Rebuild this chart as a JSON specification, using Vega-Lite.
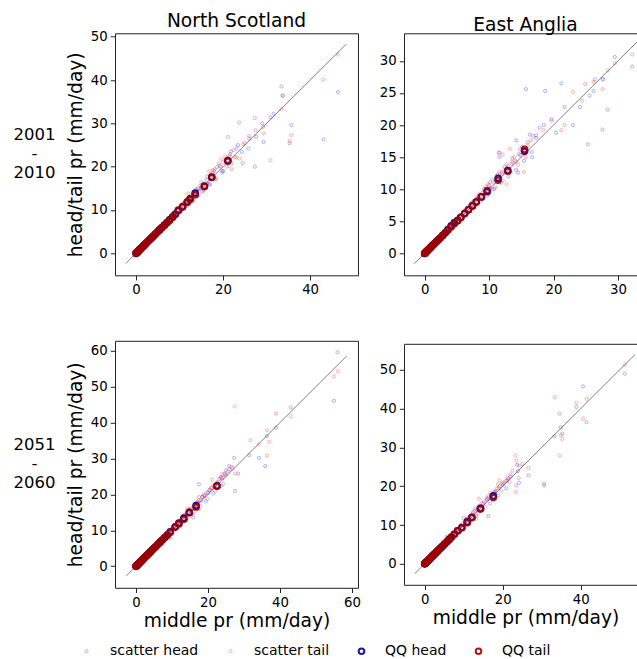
{
  "$schema": "https://vega.github.io/schema/vega-lite/v6.json",
  "padding": {"left": 0, "top": 11.3, "right": 0, "bottom": 0},
  "background": "white",
  "config": {
    "font": "DejaVu Sans",
    "view": {"stroke": "#222222", "strokeWidth": 1},
    "axis": {"domain": false, "grid": false, "ticks": true, "tickColor": "#222222", "tickSize": 4.7, "tickWidth": 1, "labelFontSize": 13.33, "labelColor": "black", "labelPadding": 3, "labelFont": "DejaVu Sans", "labelFlush": false, "labelOverlap": false, "titleFontSize": 18.67, "titleFontWeight": "normal", "titleColor": "black", "titleFont": "DejaVu Sans"},
    "axisY": {"titlePadding": 5},
    "axisX": {"titlePadding": 3},
    "title": {"fontSize": 18.67, "fontWeight": "normal", "font": "DejaVu Sans", "color": "black", "offset": -1},
    "legend": {"orient": "none", "direction": "horizontal", "legendX": 79.5, "legendY": 611, "labelFontSize": 14, "labelFont": "DejaVu Sans", "labelColor": "black", "labelOffset": 16.5, "columnPadding": 25, "symbolType": "circle"}
  },
  "datasets": {
    "ns01": [
      {"series":"scatter head","x":0.0,"y":0.0},{"series":"scatter head","x":0.1,"y":0.2},{"series":"scatter head","x":0.3,"y":0.2},{"series":"scatter head","x":0.5,"y":0.6},{"series":"scatter head","x":0.8,"y":0.7},{"series":"scatter head","x":1.0,"y":1.2},{"series":"scatter head","x":1.3,"y":1.2},{"series":"scatter head","x":1.7,"y":1.6},{"series":"scatter head","x":2.0,"y":2.2},{"series":"scatter head","x":2.4,"y":2.3},{"series":"scatter head","x":2.9,"y":3.0},{"series":"scatter head","x":3.3,"y":3.1},{"series":"scatter head","x":3.8,"y":4.0},{"series":"scatter head","x":4.2,"y":4.1},{"series":"scatter head","x":4.8,"y":4.6},{"series":"scatter head","x":5.3,"y":5.5},{"series":"scatter head","x":5.9,"y":5.7},{"series":"scatter head","x":6.4,"y":6.6},{"series":"scatter head","x":7.0,"y":6.7},{"series":"scatter head","x":7.5,"y":7.9},{"series":"scatter head","x":8.1,"y":7.6},{"series":"scatter head","x":8.6,"y":9.0},{"series":"scatter head","x":9.2,"y":8.7},{"series":"scatter head","x":9.8,"y":10.3},{"series":"scatter head","x":10.4,"y":9.8},{"series":"scatter head","x":11.0,"y":11.6},{"series":"scatter head","x":11.6,"y":10.9},{"series":"scatter head","x":12.2,"y":12.9},{"series":"scatter head","x":12.9,"y":12.1},{"series":"scatter head","x":13.5,"y":14.2},{"series":"scatter head","x":14.1,"y":13.2},{"series":"scatter head","x":14.8,"y":15.6},{"series":"scatter head","x":15.5,"y":14.5},{"series":"scatter head","x":16.2,"y":17.0},{"series":"scatter head","x":16.9,"y":15.8},{"series":"scatter head","x":17.6,"y":18.5},{"series":"scatter head","x":18.4,"y":17.1},{"series":"scatter head","x":19.2,"y":20.2},{"series":"scatter head","x":20.1,"y":19.0},{"series":"scatter head","x":21.0,"y":22.0},{"series":"scatter head","x":22.0,"y":20.8},{"series":"scatter head","x":23.1,"y":24.2},{"series":"scatter head","x":24.3,"y":23.4},{"series":"scatter head","x":26.0,"y":26.5},
      {"series":"scatter head","x":46.4,"y":37.2},{"series":"scatter head","x":43.1,"y":26.3},{"series":"scatter head","x":33.4,"y":38.5},{"series":"scatter head","x":33.7,"y":36.5},{"series":"scatter head","x":31.6,"y":32.2},{"series":"scatter head","x":30.9,"y":31.4},{"series":"scatter head","x":29.0,"y":30.0},{"series":"scatter head","x":35.7,"y":29.6},{"series":"scatter head","x":35.3,"y":25.4},{"series":"scatter head","x":29.3,"y":25.7},{"series":"scatter head","x":27.3,"y":20.0},{"series":"scatter head","x":24.5,"y":20.8},{"series":"scatter head","x":25.8,"y":24.2},{"series":"scatter head","x":21.8,"y":23.5},{"series":"scatter head","x":27.6,"y":26.9},{"series":"scatter head","x":23.4,"y":25.0},
      {"series":"scatter head","x":3.0,"y":3.4},{"series":"scatter head","x":4.5,"y":4.2},{"series":"scatter head","x":6.0,"y":6.5},{"series":"scatter head","x":7.8,"y":8.4},{"series":"scatter head","x":9.5,"y":9.0},{"series":"scatter head","x":10.8,"y":11.5},{"series":"scatter head","x":12.5,"y":12.0},{"series":"scatter head","x":13.0,"y":13.9},{"series":"scatter head","x":14.3,"y":15.0},{"series":"scatter head","x":15.2,"y":14.2},{"series":"scatter head","x":16.5,"y":16.0},{"series":"scatter head","x":17.2,"y":18.1},{"series":"scatter head","x":18.0,"y":19.0},{"series":"scatter head","x":19.8,"y":19.0},{"series":"scatter head","x":20.6,"y":21.4},{"series":"scatter head","x":21.5,"y":22.5},
      {"series":"scatter tail","x":0.0,"y":0.1},{"series":"scatter tail","x":0.2,"y":0.1},{"series":"scatter tail","x":0.4,"y":0.5},{"series":"scatter tail","x":0.7,"y":0.8},{"series":"scatter tail","x":0.9,"y":0.8},{"series":"scatter tail","x":1.2,"y":1.3},{"series":"scatter tail","x":1.5,"y":1.4},{"series":"scatter tail","x":1.9,"y":2.0},{"series":"scatter tail","x":2.2,"y":2.1},{"series":"scatter tail","x":2.7,"y":2.8},{"series":"scatter tail","x":3.1,"y":3.0},{"series":"scatter tail","x":3.6,"y":3.8},{"series":"scatter tail","x":4.0,"y":3.9},{"series":"scatter tail","x":4.5,"y":4.7},{"series":"scatter tail","x":5.0,"y":4.8},{"series":"scatter tail","x":5.6,"y":5.9},{"series":"scatter tail","x":6.1,"y":5.9},{"series":"scatter tail","x":6.7,"y":7.0},{"series":"scatter tail","x":7.2,"y":6.9},{"series":"scatter tail","x":7.8,"y":8.2},{"series":"scatter tail","x":8.4,"y":8.0},{"series":"scatter tail","x":8.9,"y":9.4},{"series":"scatter tail","x":9.5,"y":9.0},{"series":"scatter tail","x":10.1,"y":10.7},{"series":"scatter tail","x":10.7,"y":10.1},{"series":"scatter tail","x":11.3,"y":12.0},{"series":"scatter tail","x":11.9,"y":11.2},{"series":"scatter tail","x":12.5,"y":13.3},{"series":"scatter tail","x":13.1,"y":12.3},{"series":"scatter tail","x":13.8,"y":14.8},{"series":"scatter tail","x":14.4,"y":13.6},{"series":"scatter tail","x":15.0,"y":16.4},{"series":"scatter tail","x":15.7,"y":14.9},{"series":"scatter tail","x":16.3,"y":17.8},{"series":"scatter tail","x":17.0,"y":16.1},{"series":"scatter tail","x":17.6,"y":19.2},{"series":"scatter tail","x":18.3,"y":17.3},{"series":"scatter tail","x":19.0,"y":20.8},{"series":"scatter tail","x":19.8,"y":18.6},{"series":"scatter tail","x":20.5,"y":22.4},{"series":"scatter tail","x":21.3,"y":20.2},{"series":"scatter tail","x":22.4,"y":23.8},{"series":"scatter tail","x":23.0,"y":22.1},{"series":"scatter tail","x":24.6,"y":25.2},{"series":"scatter tail","x":26.0,"y":27.1},{"series":"scatter tail","x":27.5,"y":28.4},{"series":"scatter tail","x":16.8,"y":18.9},{"series":"scatter tail","x":18.0,"y":19.4},{"series":"scatter tail","x":14.9,"y":15.1},{"series":"scatter tail","x":12.0,"y":13.8},
      {"series":"scatter tail","x":46.4,"y":45.9},{"series":"scatter tail","x":43.0,"y":40.1},{"series":"scatter tail","x":33.7,"y":36.3},{"series":"scatter tail","x":33.4,"y":33.3},{"series":"scatter tail","x":27.3,"y":31.2},{"series":"scatter tail","x":23.7,"y":30.2},{"series":"scatter tail","x":21.1,"y":26.9},{"series":"scatter tail","x":35.7,"y":27.3},{"series":"scatter tail","x":35.3,"y":25.9},{"series":"scatter tail","x":29.3,"y":27.7},{"series":"scatter tail","x":29.2,"y":29.2},{"series":"scatter tail","x":30.9,"y":21.5},{"series":"scatter tail","x":22.0,"y":19.4},{"series":"scatter tail","x":23.8,"y":21.9},{"series":"scatter tail","x":19.6,"y":21.8},{"series":"scatter tail","x":25.0,"y":25.4},
      {"series":"scatter tail","x":3.3,"y":3.6},{"series":"scatter tail","x":5.3,"y":5.1},{"series":"scatter tail","x":6.9,"y":7.4},{"series":"scatter tail","x":8.6,"y":8.3},{"series":"scatter tail","x":9.9,"y":10.4},{"series":"scatter tail","x":11.0,"y":10.8},{"series":"scatter tail","x":12.2,"y":12.8},{"series":"scatter tail","x":13.4,"y":14.1},{"series":"scatter tail","x":14.1,"y":14.7},{"series":"scatter tail","x":15.4,"y":16.0},{"series":"scatter tail","x":16.0,"y":15.5},{"series":"scatter tail","x":17.3,"y":17.9},{"series":"scatter tail","x":18.6,"y":19.9},{"series":"scatter tail","x":19.4,"y":20.0},{"series":"scatter tail","x":20.0,"y":21.0},{"series":"scatter tail","x":21.6,"y":22.9},{"series":"scatter tail","x":22.7,"y":22.2},{"series":"scatter tail","x":20.8,"y":20.0},
      {"series":"QQ head","x":0.0,"y":0.0},{"series":"QQ head","x":0.1,"y":0.1},{"series":"QQ head","x":0.2,"y":0.2},{"series":"QQ head","x":0.35,"y":0.35},{"series":"QQ head","x":0.5,"y":0.5},{"series":"QQ head","x":0.7,"y":0.7},{"series":"QQ head","x":0.9,"y":0.9},{"series":"QQ head","x":1.1,"y":1.1},{"series":"QQ head","x":1.4,"y":1.4},{"series":"QQ head","x":1.7,"y":1.7},{"series":"QQ head","x":2.0,"y":2.0},{"series":"QQ head","x":2.3,"y":2.3},{"series":"QQ head","x":2.7,"y":2.7},{"series":"QQ head","x":3.1,"y":3.1},{"series":"QQ head","x":3.5,"y":3.5},{"series":"QQ head","x":3.9,"y":3.9},{"series":"QQ head","x":4.4,"y":4.4},{"series":"QQ head","x":4.9,"y":4.9},{"series":"QQ head","x":5.4,"y":5.4},{"series":"QQ head","x":5.9,"y":5.9},{"series":"QQ head","x":6.5,"y":6.5},{"series":"QQ head","x":7.1,"y":7.1},{"series":"QQ head","x":7.7,"y":7.7},{"series":"QQ head","x":8.4,"y":8.4},{"series":"QQ head","x":9.0,"y":9.0},{"series":"QQ head","x":9.7,"y":9.8},{"series":"QQ head","x":10.7,"y":10.7},{"series":"QQ head","x":11.8,"y":11.9},{"series":"QQ head","x":12.4,"y":12.6},{"series":"QQ head","x":13.6,"y":13.9},{"series":"QQ head","x":15.7,"y":15.5},{"series":"QQ head","x":17.4,"y":17.6},{"series":"QQ head","x":21.1,"y":21.3},
      {"series":"QQ tail","x":0.0,"y":0.0},{"series":"QQ tail","x":0.1,"y":0.1},{"series":"QQ tail","x":0.2,"y":0.2},{"series":"QQ tail","x":0.35,"y":0.35},{"series":"QQ tail","x":0.5,"y":0.5},{"series":"QQ tail","x":0.7,"y":0.7},{"series":"QQ tail","x":0.9,"y":0.9},{"series":"QQ tail","x":1.1,"y":1.1},{"series":"QQ tail","x":1.4,"y":1.4},{"series":"QQ tail","x":1.7,"y":1.7},{"series":"QQ tail","x":2.0,"y":2.0},{"series":"QQ tail","x":2.3,"y":2.3},{"series":"QQ tail","x":2.7,"y":2.7},{"series":"QQ tail","x":3.1,"y":3.1},{"series":"QQ tail","x":3.5,"y":3.5},{"series":"QQ tail","x":3.9,"y":3.9},{"series":"QQ tail","x":4.4,"y":4.4},{"series":"QQ tail","x":4.9,"y":4.9},{"series":"QQ tail","x":5.4,"y":5.4},{"series":"QQ tail","x":5.9,"y":5.9},{"series":"QQ tail","x":6.5,"y":6.4},{"series":"QQ tail","x":7.1,"y":7.0},{"series":"QQ tail","x":7.7,"y":7.6},{"series":"QQ tail","x":8.4,"y":8.3},{"series":"QQ tail","x":9.0,"y":9.0},{"series":"QQ tail","x":9.7,"y":10.0},{"series":"QQ tail","x":10.7,"y":10.8},{"series":"QQ tail","x":11.8,"y":11.8},{"series":"QQ tail","x":12.4,"y":12.4},{"series":"QQ tail","x":13.6,"y":13.5},{"series":"QQ tail","x":15.7,"y":15.4},{"series":"QQ tail","x":17.4,"y":17.5},{"series":"QQ tail","x":21.1,"y":21.4}
    ],
    "ea01": [
      {"series":"scatter head","x":0.0,"y":0.0},{"series":"scatter head","x":0.1,"y":0.2},{"series":"scatter head","x":0.3,"y":0.3},{"series":"scatter head","x":0.5,"y":0.4},{"series":"scatter head","x":0.7,"y":0.8},{"series":"scatter head","x":1.0,"y":0.9},{"series":"scatter head","x":1.3,"y":1.4},{"series":"scatter head","x":1.6,"y":1.5},{"series":"scatter head","x":1.9,"y":2.1},{"series":"scatter head","x":2.3,"y":2.2},{"series":"scatter head","x":2.7,"y":2.9},{"series":"scatter head","x":3.1,"y":2.9},{"series":"scatter head","x":3.5,"y":3.8},{"series":"scatter head","x":3.9,"y":3.7},{"series":"scatter head","x":4.3,"y":4.7},{"series":"scatter head","x":4.8,"y":4.5},{"series":"scatter head","x":5.2,"y":5.6},{"series":"scatter head","x":5.7,"y":5.3},{"series":"scatter head","x":6.2,"y":6.7},{"series":"scatter head","x":6.7,"y":6.3},{"series":"scatter head","x":7.2,"y":7.8},{"series":"scatter head","x":7.7,"y":7.2},{"series":"scatter head","x":8.2,"y":8.9},{"series":"scatter head","x":8.7,"y":8.1},{"series":"scatter head","x":9.2,"y":10.0},{"series":"scatter head","x":9.7,"y":9.0},{"series":"scatter head","x":10.2,"y":11.1},{"series":"scatter head","x":10.8,"y":10.0},{"series":"scatter head","x":11.3,"y":12.3},{"series":"scatter head","x":11.9,"y":11.0},{"series":"scatter head","x":12.4,"y":13.5},{"series":"scatter head","x":13.0,"y":12.0},{"series":"scatter head","x":13.6,"y":14.8},{"series":"scatter head","x":14.2,"y":13.0},{"series":"scatter head","x":14.8,"y":16.2},{"series":"scatter head","x":15.4,"y":14.4},{"series":"scatter head","x":16.0,"y":17.3},{"series":"scatter head","x":16.6,"y":15.8},{"series":"scatter head","x":17.3,"y":18.0},
      {"series":"scatter head","x":32.2,"y":29.1},{"series":"scatter head","x":29.5,"y":30.6},{"series":"scatter head","x":15.7,"y":25.6},{"series":"scatter head","x":18.7,"y":25.3},{"series":"scatter head","x":21.2,"y":26.5},{"series":"scatter head","x":26.4,"y":27.1},{"series":"scatter head","x":26.2,"y":25.3},{"series":"scatter head","x":25.6,"y":24.6},{"series":"scatter head","x":21.7,"y":22.8},{"series":"scatter head","x":24.1,"y":22.8},{"series":"scatter head","x":28.4,"y":22.4},{"series":"scatter head","x":27.6,"y":19.3},{"series":"scatter head","x":25.3,"y":17.0},{"series":"scatter head","x":23.0,"y":20.0},{"series":"scatter head","x":19.7,"y":20.9},{"series":"scatter head","x":18.5,"y":20.0},{"series":"scatter head","x":17.8,"y":19.6},{"series":"scatter head","x":20.4,"y":18.8},{"series":"scatter head","x":17.3,"y":18.4},{"series":"scatter head","x":16.3,"y":18.5},{"series":"scatter head","x":14.2,"y":17.6},{"series":"scatter head","x":11.6,"y":15.0},{"series":"scatter head","x":11.6,"y":15.7},{"series":"scatter head","x":16.7,"y":15.0},{"series":"scatter head","x":14.5,"y":12.6},{"series":"scatter head","x":27.7,"y":27.1},
      {"series":"scatter head","x":2.0,"y":2.4},{"series":"scatter head","x":3.0,"y":3.3},{"series":"scatter head","x":4.0,"y":4.4},{"series":"scatter head","x":5.0,"y":5.4},{"series":"scatter head","x":6.0,"y":6.0},{"series":"scatter head","x":7.0,"y":7.4},{"series":"scatter head","x":8.0,"y":8.5},{"series":"scatter head","x":9.0,"y":9.5},{"series":"scatter head","x":10.0,"y":10.6},{"series":"scatter head","x":10.5,"y":10.0},{"series":"scatter head","x":11.0,"y":11.5},{"series":"scatter head","x":12.0,"y":12.6},{"series":"scatter head","x":12.8,"y":13.3},{"series":"scatter head","x":13.5,"y":14.0},{"series":"scatter head","x":14.8,"y":15.3},{"series":"scatter head","x":15.5,"y":15.8},
      {"series":"scatter tail","x":0.0,"y":0.1},{"series":"scatter tail","x":0.2,"y":0.1},{"series":"scatter tail","x":0.4,"y":0.5},{"series":"scatter tail","x":0.6,"y":0.6},{"series":"scatter tail","x":0.9,"y":1.0},{"series":"scatter tail","x":1.2,"y":1.1},{"series":"scatter tail","x":1.5,"y":1.6},{"series":"scatter tail","x":1.8,"y":1.7},{"series":"scatter tail","x":2.1,"y":2.3},{"series":"scatter tail","x":2.5,"y":2.4},{"series":"scatter tail","x":2.9,"y":3.1},{"series":"scatter tail","x":3.3,"y":3.2},{"series":"scatter tail","x":3.7,"y":4.0},{"series":"scatter tail","x":4.1,"y":3.9},{"series":"scatter tail","x":4.6,"y":4.9},{"series":"scatter tail","x":5.0,"y":4.8},{"series":"scatter tail","x":5.5,"y":5.9},{"series":"scatter tail","x":6.0,"y":5.7},{"series":"scatter tail","x":6.5,"y":7.0},{"series":"scatter tail","x":7.0,"y":6.6},{"series":"scatter tail","x":7.5,"y":8.1},{"series":"scatter tail","x":8.0,"y":7.6},{"series":"scatter tail","x":8.5,"y":9.3},{"series":"scatter tail","x":9.0,"y":8.5},{"series":"scatter tail","x":9.5,"y":10.4},{"series":"scatter tail","x":10.0,"y":9.4},{"series":"scatter tail","x":10.5,"y":11.5},{"series":"scatter tail","x":11.0,"y":10.3},{"series":"scatter tail","x":11.6,"y":12.7},{"series":"scatter tail","x":12.1,"y":11.4},{"series":"scatter tail","x":12.7,"y":13.9},{"series":"scatter tail","x":13.3,"y":12.6},{"series":"scatter tail","x":13.9,"y":15.0},{"series":"scatter tail","x":14.5,"y":13.8},{"series":"scatter tail","x":15.1,"y":16.6},{"series":"scatter tail","x":15.7,"y":15.0},{"series":"scatter tail","x":14.0,"y":14.5},{"series":"scatter tail","x":12.0,"y":12.4},{"series":"scatter tail","x":10.2,"y":10.2},{"series":"scatter tail","x":16.5,"y":17.6},
      {"series":"scatter tail","x":32.2,"y":31.0},{"series":"scatter tail","x":29.5,"y":29.6},{"series":"scatter tail","x":28.4,"y":28.5},{"series":"scatter tail","x":27.6,"y":27.2},{"series":"scatter tail","x":26.2,"y":26.7},{"series":"scatter tail","x":24.9,"y":26.4},{"series":"scatter tail","x":23.0,"y":25.2},{"series":"scatter tail","x":24.4,"y":23.8},{"series":"scatter tail","x":27.6,"y":25.6},{"series":"scatter tail","x":21.7,"y":20.0},{"series":"scatter tail","x":21.2,"y":19.2},{"series":"scatter tail","x":19.7,"y":20.7},{"series":"scatter tail","x":18.4,"y":19.2},{"series":"scatter tail","x":16.8,"y":18.3},{"series":"scatter tail","x":15.4,"y":12.7},{"series":"scatter tail","x":11.5,"y":15.7},{"series":"scatter tail","x":12.1,"y":15.4},{"series":"scatter tail","x":13.2,"y":16.3},{"series":"scatter tail","x":12.7,"y":10.8},
      {"series":"scatter tail","x":2.3,"y":2.6},{"series":"scatter tail","x":3.5,"y":3.4},{"series":"scatter tail","x":4.4,"y":4.6},{"series":"scatter tail","x":5.3,"y":5.6},{"series":"scatter tail","x":6.3,"y":6.5},{"series":"scatter tail","x":7.3,"y":7.5},{"series":"scatter tail","x":8.3,"y":8.6},{"series":"scatter tail","x":9.3,"y":9.6},{"series":"scatter tail","x":9.8,"y":10.8},{"series":"scatter tail","x":10.8,"y":11.0},{"series":"scatter tail","x":11.3,"y":12.1},{"series":"scatter tail","x":12.4,"y":13.0},{"series":"scatter tail","x":13.0,"y":13.6},{"series":"scatter tail","x":13.6,"y":14.2},{"series":"scatter tail","x":14.6,"y":15.5},{"series":"scatter tail","x":15.3,"y":16.4},{"series":"scatter tail","x":16.0,"y":16.8},{"series":"scatter tail","x":14.2,"y":14.3},
      {"series":"QQ head","x":0.0,"y":0.0},{"series":"QQ head","x":0.1,"y":0.1},{"series":"QQ head","x":0.2,"y":0.2},{"series":"QQ head","x":0.3,"y":0.3},{"series":"QQ head","x":0.45,"y":0.45},{"series":"QQ head","x":0.6,"y":0.6},{"series":"QQ head","x":0.8,"y":0.8},{"series":"QQ head","x":1.0,"y":1.0},{"series":"QQ head","x":1.25,"y":1.25},{"series":"QQ head","x":1.5,"y":1.5},{"series":"QQ head","x":1.8,"y":1.8},{"series":"QQ head","x":2.1,"y":2.1},{"series":"QQ head","x":2.4,"y":2.4},{"series":"QQ head","x":2.8,"y":2.8},{"series":"QQ head","x":3.2,"y":3.2},{"series":"QQ head","x":3.6,"y":3.7},{"series":"QQ head","x":4.1,"y":4.3},{"series":"QQ head","x":4.6,"y":4.8},{"series":"QQ head","x":5.1,"y":5.1},{"series":"QQ head","x":5.6,"y":5.6},{"series":"QQ head","x":6.2,"y":6.2},{"series":"QQ head","x":6.8,"y":6.8},{"series":"QQ head","x":7.4,"y":7.4},{"series":"QQ head","x":8.0,"y":8.0},{"series":"QQ head","x":8.8,"y":8.8},{"series":"QQ head","x":9.7,"y":9.6},{"series":"QQ head","x":11.4,"y":11.7},{"series":"QQ head","x":12.9,"y":12.9},{"series":"QQ head","x":15.5,"y":15.9},
      {"series":"QQ tail","x":0.0,"y":0.0},{"series":"QQ tail","x":0.1,"y":0.1},{"series":"QQ tail","x":0.2,"y":0.2},{"series":"QQ tail","x":0.3,"y":0.3},{"series":"QQ tail","x":0.45,"y":0.45},{"series":"QQ tail","x":0.6,"y":0.6},{"series":"QQ tail","x":0.8,"y":0.8},{"series":"QQ tail","x":1.0,"y":1.0},{"series":"QQ tail","x":1.25,"y":1.25},{"series":"QQ tail","x":1.5,"y":1.5},{"series":"QQ tail","x":1.8,"y":1.8},{"series":"QQ tail","x":2.1,"y":2.1},{"series":"QQ tail","x":2.4,"y":2.4},{"series":"QQ tail","x":2.8,"y":2.8},{"series":"QQ tail","x":3.2,"y":3.2},{"series":"QQ tail","x":3.6,"y":3.6},{"series":"QQ tail","x":4.1,"y":4.1},{"series":"QQ tail","x":4.6,"y":4.6},{"series":"QQ tail","x":5.1,"y":5.1},{"series":"QQ tail","x":5.6,"y":5.6},{"series":"QQ tail","x":6.2,"y":6.2},{"series":"QQ tail","x":6.8,"y":6.8},{"series":"QQ tail","x":7.4,"y":7.4},{"series":"QQ tail","x":8.0,"y":8.0},{"series":"QQ tail","x":8.8,"y":8.8},{"series":"QQ tail","x":9.7,"y":9.8},{"series":"QQ tail","x":11.4,"y":11.4},{"series":"QQ tail","x":12.9,"y":12.8},{"series":"QQ tail","x":15.5,"y":16.2}
    ],
    "ns51": [
      {"series":"scatter head","x":0.0,"y":0.0},{"series":"scatter head","x":0.2,"y":0.1},{"series":"scatter head","x":0.4,"y":0.5},{"series":"scatter head","x":0.7,"y":0.6},{"series":"scatter head","x":1.0,"y":1.1},{"series":"scatter head","x":1.4,"y":1.3},{"series":"scatter head","x":1.8,"y":1.9},{"series":"scatter head","x":2.2,"y":2.1},{"series":"scatter head","x":2.7,"y":2.8},{"series":"scatter head","x":3.2,"y":3.0},{"series":"scatter head","x":3.7,"y":3.9},{"series":"scatter head","x":4.2,"y":4.0},{"series":"scatter head","x":4.8,"y":5.0},{"series":"scatter head","x":5.4,"y":5.1},{"series":"scatter head","x":6.0,"y":6.3},{"series":"scatter head","x":6.6,"y":6.2},{"series":"scatter head","x":7.2,"y":7.6},{"series":"scatter head","x":7.9,"y":7.4},{"series":"scatter head","x":8.6,"y":9.0},{"series":"scatter head","x":9.3,"y":8.7},{"series":"scatter head","x":10.0,"y":10.6},{"series":"scatter head","x":10.7,"y":10.0},{"series":"scatter head","x":11.5,"y":12.1},{"series":"scatter head","x":12.3,"y":11.4},{"series":"scatter head","x":13.1,"y":13.9},{"series":"scatter head","x":13.9,"y":12.8},{"series":"scatter head","x":14.8,"y":15.7},{"series":"scatter head","x":15.6,"y":14.4},{"series":"scatter head","x":16.5,"y":17.4},{"series":"scatter head","x":17.4,"y":16.0},{"series":"scatter head","x":18.4,"y":19.3},{"series":"scatter head","x":19.4,"y":18.1},{"series":"scatter head","x":20.4,"y":21.2},{"series":"scatter head","x":21.5,"y":20.3},{"series":"scatter head","x":22.6,"y":23.4},{"series":"scatter head","x":23.7,"y":22.4},{"series":"scatter head","x":24.8,"y":25.6},{"series":"scatter head","x":26.0,"y":27.0},
      {"series":"scatter head","x":56.0,"y":59.6},{"series":"scatter head","x":55.0,"y":46.1},{"series":"scatter head","x":43.0,"y":44.2},{"series":"scatter head","x":38.9,"y":38.6},{"series":"scatter head","x":36.4,"y":36.3},{"series":"scatter head","x":34.2,"y":30.2},{"series":"scatter head","x":35.9,"y":27.9},{"series":"scatter head","x":31.5,"y":30.9},{"series":"scatter head","x":27.3,"y":30.2},{"series":"scatter head","x":27.5,"y":21.0},{"series":"scatter head","x":17.5,"y":22.8},{"series":"scatter head","x":28.4,"y":25.8},{"series":"scatter head","x":25.9,"y":27.9},{"series":"scatter head","x":25.0,"y":26.7},{"series":"scatter head","x":23.6,"y":24.9},{"series":"scatter head","x":15.9,"y":13.6},{"series":"scatter head","x":9.5,"y":7.9},
      {"series":"scatter head","x":3.0,"y":3.3},{"series":"scatter head","x":5.0,"y":5.4},{"series":"scatter head","x":7.0,"y":7.3},{"series":"scatter head","x":9.0,"y":9.4},{"series":"scatter head","x":10.5,"y":11.1},{"series":"scatter head","x":12.0,"y":12.5},{"series":"scatter head","x":13.5,"y":13.9},{"series":"scatter head","x":15.0,"y":15.3},{"series":"scatter head","x":16.0,"y":16.6},{"series":"scatter head","x":17.0,"y":17.7},{"series":"scatter head","x":18.0,"y":18.3},{"series":"scatter head","x":19.0,"y":19.6},{"series":"scatter head","x":20.0,"y":20.4},{"series":"scatter head","x":21.0,"y":21.7},{"series":"scatter head","x":22.0,"y":22.5},{"series":"scatter head","x":24.0,"y":24.6},
      {"series":"scatter tail","x":0.0,"y":0.1},{"series":"scatter tail","x":0.1,"y":0.0},{"series":"scatter tail","x":0.3,"y":0.3},{"series":"scatter tail","x":0.6,"y":0.7},{"series":"scatter tail","x":0.9,"y":0.8},{"series":"scatter tail","x":1.2,"y":1.3},{"series":"scatter tail","x":1.6,"y":1.5},{"series":"scatter tail","x":2.0,"y":2.1},{"series":"scatter tail","x":2.5,"y":2.4},{"series":"scatter tail","x":2.9,"y":3.1},{"series":"scatter tail","x":3.4,"y":3.3},{"series":"scatter tail","x":3.9,"y":4.1},{"series":"scatter tail","x":4.5,"y":4.3},{"series":"scatter tail","x":5.1,"y":5.3},{"series":"scatter tail","x":5.7,"y":5.5},{"series":"scatter tail","x":6.3,"y":6.6},{"series":"scatter tail","x":6.9,"y":6.7},{"series":"scatter tail","x":7.6,"y":7.9},{"series":"scatter tail","x":8.2,"y":8.0},{"series":"scatter tail","x":8.9,"y":9.3},{"series":"scatter tail","x":9.6,"y":9.3},{"series":"scatter tail","x":10.4,"y":10.9},{"series":"scatter tail","x":11.1,"y":10.7},{"series":"scatter tail","x":11.9,"y":12.5},{"series":"scatter tail","x":12.7,"y":12.2},{"series":"scatter tail","x":13.5,"y":14.3},{"series":"scatter tail","x":14.3,"y":13.6},{"series":"scatter tail","x":15.2,"y":16.1},{"series":"scatter tail","x":16.1,"y":15.2},{"series":"scatter tail","x":17.0,"y":18.0},{"series":"scatter tail","x":17.9,"y":16.8},{"series":"scatter tail","x":18.9,"y":19.9},{"series":"scatter tail","x":19.9,"y":18.8},{"series":"scatter tail","x":21.0,"y":22.0},{"series":"scatter tail","x":22.0,"y":21.0},{"series":"scatter tail","x":23.1,"y":24.3},{"series":"scatter tail","x":24.2,"y":23.0},{"series":"scatter tail","x":25.5,"y":26.4},{"series":"scatter tail","x":26.8,"y":27.3},
      {"series":"scatter tail","x":56.1,"y":54.3},{"series":"scatter tail","x":55.0,"y":52.9},{"series":"scatter tail","x":43.0,"y":41.8},{"series":"scatter tail","x":38.9,"y":42.5},{"series":"scatter tail","x":36.4,"y":37.9},{"series":"scatter tail","x":34.1,"y":33.9},{"series":"scatter tail","x":37.0,"y":34.7},{"series":"scatter tail","x":36.4,"y":30.8},{"series":"scatter tail","x":31.8,"y":35.1},{"series":"scatter tail","x":27.4,"y":44.5},{"series":"scatter tail","x":27.5,"y":25.8},{"series":"scatter tail","x":26.5,"y":27.7},{"series":"scatter tail","x":24.5,"y":25.8},{"series":"scatter tail","x":21.2,"y":24.1},{"series":"scatter tail","x":17.5,"y":19.3},{"series":"scatter tail","x":14.2,"y":16.1},
      {"series":"scatter tail","x":3.6,"y":3.8},{"series":"scatter tail","x":5.5,"y":5.9},{"series":"scatter tail","x":7.3,"y":7.6},{"series":"scatter tail","x":9.2,"y":9.8},{"series":"scatter tail","x":10.8,"y":11.4},{"series":"scatter tail","x":12.3,"y":12.9},{"series":"scatter tail","x":13.8,"y":14.5},{"series":"scatter tail","x":15.0,"y":15.8},{"series":"scatter tail","x":16.4,"y":17.2},{"series":"scatter tail","x":17.5,"y":18.4},{"series":"scatter tail","x":18.5,"y":19.4},{"series":"scatter tail","x":19.5,"y":20.5},{"series":"scatter tail","x":20.5,"y":21.3},{"series":"scatter tail","x":21.5,"y":22.5},{"series":"scatter tail","x":22.5,"y":23.2},{"series":"scatter tail","x":23.5,"y":24.5},{"series":"scatter tail","x":25.0,"y":25.3},{"series":"scatter tail","x":24.0,"y":25.6},
      {"series":"QQ head","x":0.0,"y":0.0},{"series":"QQ head","x":0.1,"y":0.1},{"series":"QQ head","x":0.2,"y":0.2},{"series":"QQ head","x":0.35,"y":0.35},{"series":"QQ head","x":0.5,"y":0.5},{"series":"QQ head","x":0.7,"y":0.7},{"series":"QQ head","x":0.9,"y":0.9},{"series":"QQ head","x":1.15,"y":1.15},{"series":"QQ head","x":1.4,"y":1.4},{"series":"QQ head","x":1.7,"y":1.7},{"series":"QQ head","x":2.0,"y":2.0},{"series":"QQ head","x":2.35,"y":2.35},{"series":"QQ head","x":2.7,"y":2.7},{"series":"QQ head","x":3.1,"y":3.1},{"series":"QQ head","x":3.5,"y":3.5},{"series":"QQ head","x":4.0,"y":4.0},{"series":"QQ head","x":4.5,"y":4.5},{"series":"QQ head","x":5.0,"y":5.0},{"series":"QQ head","x":5.5,"y":5.5},{"series":"QQ head","x":6.1,"y":6.1},{"series":"QQ head","x":6.7,"y":6.7},{"series":"QQ head","x":7.3,"y":7.3},{"series":"QQ head","x":8.0,"y":8.0},{"series":"QQ head","x":8.7,"y":8.7},{"series":"QQ head","x":9.5,"y":9.6},{"series":"QQ head","x":10.9,"y":10.9},{"series":"QQ head","x":11.9,"y":12.0},{"series":"QQ head","x":13.3,"y":13.4},{"series":"QQ head","x":14.8,"y":15.0},{"series":"QQ head","x":16.7,"y":16.9},{"series":"QQ head","x":22.5,"y":22.4},
      {"series":"QQ tail","x":0.0,"y":0.0},{"series":"QQ tail","x":0.1,"y":0.1},{"series":"QQ tail","x":0.2,"y":0.2},{"series":"QQ tail","x":0.35,"y":0.35},{"series":"QQ tail","x":0.5,"y":0.5},{"series":"QQ tail","x":0.7,"y":0.7},{"series":"QQ tail","x":0.9,"y":0.9},{"series":"QQ tail","x":1.15,"y":1.15},{"series":"QQ tail","x":1.4,"y":1.4},{"series":"QQ tail","x":1.7,"y":1.7},{"series":"QQ tail","x":2.0,"y":2.0},{"series":"QQ tail","x":2.35,"y":2.35},{"series":"QQ tail","x":2.7,"y":2.7},{"series":"QQ tail","x":3.1,"y":3.1},{"series":"QQ tail","x":3.5,"y":3.5},{"series":"QQ tail","x":4.0,"y":4.0},{"series":"QQ tail","x":4.5,"y":4.5},{"series":"QQ tail","x":5.0,"y":5.0},{"series":"QQ tail","x":5.5,"y":5.5},{"series":"QQ tail","x":6.1,"y":6.1},{"series":"QQ tail","x":6.7,"y":6.7},{"series":"QQ tail","x":7.3,"y":7.3},{"series":"QQ tail","x":8.0,"y":8.0},{"series":"QQ tail","x":8.7,"y":8.7},{"series":"QQ tail","x":9.5,"y":9.4},{"series":"QQ tail","x":10.9,"y":11.0},{"series":"QQ tail","x":11.9,"y":11.8},{"series":"QQ tail","x":13.3,"y":13.1},{"series":"QQ tail","x":14.8,"y":14.9},{"series":"QQ tail","x":16.7,"y":16.5},{"series":"QQ tail","x":22.5,"y":22.3}
    ],
    "ea51": [
      {"series":"scatter head","x":0.0,"y":0.0},{"series":"scatter head","x":0.2,"y":0.2},{"series":"scatter head","x":0.4,"y":0.3},{"series":"scatter head","x":0.7,"y":0.8},{"series":"scatter head","x":1.0,"y":0.9},{"series":"scatter head","x":1.4,"y":1.5},{"series":"scatter head","x":1.8,"y":1.7},{"series":"scatter head","x":2.2,"y":2.4},{"series":"scatter head","x":2.7,"y":2.5},{"series":"scatter head","x":3.2,"y":3.4},{"series":"scatter head","x":3.7,"y":3.5},{"series":"scatter head","x":4.2,"y":4.5},{"series":"scatter head","x":4.8,"y":4.6},{"series":"scatter head","x":5.4,"y":5.8},{"series":"scatter head","x":6.0,"y":5.7},{"series":"scatter head","x":6.6,"y":7.1},{"series":"scatter head","x":7.2,"y":6.8},{"series":"scatter head","x":7.9,"y":8.5},{"series":"scatter head","x":8.6,"y":8.1},{"series":"scatter head","x":9.3,"y":10.0},{"series":"scatter head","x":10.0,"y":9.3},{"series":"scatter head","x":10.8,"y":11.6},{"series":"scatter head","x":11.6,"y":10.7},{"series":"scatter head","x":12.4,"y":13.3},{"series":"scatter head","x":13.2,"y":12.3},{"series":"scatter head","x":14.1,"y":15.0},{"series":"scatter head","x":15.0,"y":14.0},{"series":"scatter head","x":15.9,"y":16.8},{"series":"scatter head","x":16.8,"y":15.6},{"series":"scatter head","x":17.8,"y":18.6},{"series":"scatter head","x":18.8,"y":17.6},{"series":"scatter head","x":19.9,"y":20.7},{"series":"scatter head","x":20.9,"y":19.5},{"series":"scatter head","x":22.0,"y":22.5},
      {"series":"scatter head","x":51.3,"y":49.0},{"series":"scatter head","x":40.6,"y":45.7},{"series":"scatter head","x":38.9,"y":40.4},{"series":"scatter head","x":41.5,"y":36.5},{"series":"scatter head","x":34.6,"y":38.7},{"series":"scatter head","x":34.9,"y":35.2},{"series":"scatter head","x":35.3,"y":33.5},{"series":"scatter head","x":33.3,"y":32.9},{"series":"scatter head","x":30.6,"y":20.6},{"series":"scatter head","x":26.6,"y":22.8},{"series":"scatter head","x":24.2,"y":20.9},{"series":"scatter head","x":23.5,"y":20.2},{"series":"scatter head","x":23.7,"y":25.5},{"series":"scatter head","x":23.9,"y":23.9},{"series":"scatter head","x":21.1,"y":21.5},{"series":"scatter head","x":16.3,"y":12.3},{"series":"scatter head","x":10.0,"y":11.8},{"series":"scatter head","x":5.6,"y":7.0},
      {"series":"scatter head","x":3.0,"y":3.2},{"series":"scatter head","x":5.0,"y":5.3},{"series":"scatter head","x":7.0,"y":7.4},{"series":"scatter head","x":9.0,"y":9.4},{"series":"scatter head","x":10.5,"y":10.9},{"series":"scatter head","x":12.0,"y":12.4},{"series":"scatter head","x":13.5,"y":13.8},{"series":"scatter head","x":15.0,"y":15.5},{"series":"scatter head","x":16.0,"y":16.5},{"series":"scatter head","x":17.0,"y":17.5},{"series":"scatter head","x":18.0,"y":18.4},{"series":"scatter head","x":19.0,"y":19.5},{"series":"scatter head","x":20.0,"y":20.3},{"series":"scatter head","x":21.5,"y":21.9},{"series":"scatter head","x":13.0,"y":14.2},{"series":"scatter head","x":8.0,"y":9.0},
      {"series":"scatter tail","x":0.0,"y":0.1},{"series":"scatter tail","x":0.1,"y":0.0},{"series":"scatter tail","x":0.3,"y":0.4},{"series":"scatter tail","x":0.6,"y":0.5},{"series":"scatter tail","x":0.9,"y":1.0},{"series":"scatter tail","x":1.2,"y":1.1},{"series":"scatter tail","x":1.6,"y":1.7},{"series":"scatter tail","x":2.0,"y":1.9},{"series":"scatter tail","x":2.5,"y":2.6},{"series":"scatter tail","x":2.9,"y":2.8},{"series":"scatter tail","x":3.4,"y":3.6},{"series":"scatter tail","x":3.9,"y":3.8},{"series":"scatter tail","x":4.5,"y":4.7},{"series":"scatter tail","x":5.1,"y":4.9},{"series":"scatter tail","x":5.7,"y":6.0},{"series":"scatter tail","x":6.3,"y":6.0},{"series":"scatter tail","x":6.9,"y":7.3},{"series":"scatter tail","x":7.6,"y":7.3},{"series":"scatter tail","x":8.3,"y":8.8},{"series":"scatter tail","x":9.0,"y":8.6},{"series":"scatter tail","x":9.7,"y":10.3},{"series":"scatter tail","x":10.4,"y":10.0},{"series":"scatter tail","x":11.2,"y":11.9},{"series":"scatter tail","x":12.0,"y":11.4},{"series":"scatter tail","x":12.8,"y":13.7},{"series":"scatter tail","x":13.7,"y":13.0},{"series":"scatter tail","x":14.6,"y":15.6},{"series":"scatter tail","x":15.5,"y":14.7},{"series":"scatter tail","x":16.4,"y":17.5},{"series":"scatter tail","x":17.4,"y":16.5},{"series":"scatter tail","x":18.5,"y":19.4},{"series":"scatter tail","x":19.6,"y":18.7},{"series":"scatter tail","x":20.7,"y":21.3},{"series":"scatter tail","x":21.8,"y":21.0},{"series":"scatter tail","x":22.5,"y":24.0},
      {"series":"scatter tail","x":51.3,"y":51.3},{"series":"scatter tail","x":33.4,"y":42.9},{"series":"scatter tail","x":38.9,"y":41.5},{"series":"scatter tail","x":41.5,"y":42.5},{"series":"scatter tail","x":40.6,"y":37.4},{"series":"scatter tail","x":34.9,"y":33.1},{"series":"scatter tail","x":35.3,"y":32.2},{"series":"scatter tail","x":34.6,"y":27.9},{"series":"scatter tail","x":30.6,"y":20.2},{"series":"scatter tail","x":26.6,"y":24.7},{"series":"scatter tail","x":23.3,"y":27.9},{"series":"scatter tail","x":23.5,"y":26.6},{"series":"scatter tail","x":24.1,"y":25.3},{"series":"scatter tail","x":25.0,"y":25.7},{"series":"scatter tail","x":23.3,"y":18.5},{"series":"scatter tail","x":24.1,"y":22.1},{"series":"scatter tail","x":19.2,"y":21.5},{"series":"scatter tail","x":13.9,"y":16.8},{"series":"scatter tail","x":13.2,"y":11.6},
      {"series":"scatter tail","x":3.5,"y":3.8},{"series":"scatter tail","x":5.4,"y":5.8},{"series":"scatter tail","x":7.3,"y":7.7},{"series":"scatter tail","x":9.3,"y":9.8},{"series":"scatter tail","x":10.8,"y":11.4},{"series":"scatter tail","x":12.3,"y":12.9},{"series":"scatter tail","x":13.8,"y":14.4},{"series":"scatter tail","x":15.2,"y":16.0},{"series":"scatter tail","x":16.2,"y":16.9},{"series":"scatter tail","x":17.2,"y":17.9},{"series":"scatter tail","x":18.2,"y":18.8},{"series":"scatter tail","x":19.2,"y":20.0},{"series":"scatter tail","x":20.2,"y":20.9},{"series":"scatter tail","x":21.2,"y":22.2},{"series":"scatter tail","x":22.0,"y":23.0},{"series":"scatter tail","x":14.5,"y":14.8},{"series":"scatter tail","x":16.8,"y":18.3},{"series":"scatter tail","x":18.8,"y":20.5},
      {"series":"QQ head","x":0.0,"y":0.0},{"series":"QQ head","x":0.1,"y":0.1},{"series":"QQ head","x":0.2,"y":0.2},{"series":"QQ head","x":0.3,"y":0.3},{"series":"QQ head","x":0.45,"y":0.45},{"series":"QQ head","x":0.6,"y":0.6},{"series":"QQ head","x":0.8,"y":0.8},{"series":"QQ head","x":1.0,"y":1.0},{"series":"QQ head","x":1.25,"y":1.25},{"series":"QQ head","x":1.5,"y":1.5},{"series":"QQ head","x":1.8,"y":1.8},{"series":"QQ head","x":2.1,"y":2.1},{"series":"QQ head","x":2.45,"y":2.45},{"series":"QQ head","x":2.8,"y":2.8},{"series":"QQ head","x":3.2,"y":3.2},{"series":"QQ head","x":3.6,"y":3.6},{"series":"QQ head","x":4.1,"y":4.1},{"series":"QQ head","x":4.6,"y":4.6},{"series":"QQ head","x":5.1,"y":5.1},{"series":"QQ head","x":5.7,"y":5.7},{"series":"QQ head","x":6.3,"y":6.3},{"series":"QQ head","x":6.9,"y":6.9},{"series":"QQ head","x":7.6,"y":7.6},{"series":"QQ head","x":8.5,"y":8.5},{"series":"QQ head","x":9.5,"y":9.3},{"series":"QQ head","x":10.9,"y":10.8},{"series":"QQ head","x":12.1,"y":12.0},{"series":"QQ head","x":14.3,"y":14.3},{"series":"QQ head","x":17.6,"y":17.5},
      {"series":"QQ tail","x":0.0,"y":0.0},{"series":"QQ tail","x":0.1,"y":0.1},{"series":"QQ tail","x":0.2,"y":0.2},{"series":"QQ tail","x":0.3,"y":0.3},{"series":"QQ tail","x":0.45,"y":0.45},{"series":"QQ tail","x":0.6,"y":0.6},{"series":"QQ tail","x":0.8,"y":0.8},{"series":"QQ tail","x":1.0,"y":1.0},{"series":"QQ tail","x":1.25,"y":1.25},{"series":"QQ tail","x":1.5,"y":1.5},{"series":"QQ tail","x":1.8,"y":1.8},{"series":"QQ tail","x":2.1,"y":2.1},{"series":"QQ tail","x":2.45,"y":2.45},{"series":"QQ tail","x":2.8,"y":2.8},{"series":"QQ tail","x":3.2,"y":3.2},{"series":"QQ tail","x":3.6,"y":3.6},{"series":"QQ tail","x":4.1,"y":4.1},{"series":"QQ tail","x":4.6,"y":4.6},{"series":"QQ tail","x":5.1,"y":5.1},{"series":"QQ tail","x":5.7,"y":5.7},{"series":"QQ tail","x":6.3,"y":6.3},{"series":"QQ tail","x":6.9,"y":6.9},{"series":"QQ tail","x":7.6,"y":7.6},{"series":"QQ tail","x":8.5,"y":8.5},{"series":"QQ tail","x":9.5,"y":9.3},{"series":"QQ tail","x":10.9,"y":10.6},{"series":"QQ tail","x":12.1,"y":11.9},{"series":"QQ tail","x":14.3,"y":14.1},{"series":"QQ tail","x":17.6,"y":17.1}
    ]
  },
  "spacing": 42.5,
  "vconcat": [
    {
      "spacing": 46,
      "bounds": "flush",
      "center": true,
      "hconcat": [
        {
          "width": 69, "height": 242,
          "view": {"stroke": null},
          "data": {"values": [{"label": "2001\n-\n2010"}]},
          "mark": {"type": "text", "lineBreak": "\n", "fontSize": 16.5, "lineHeight": 19.2, "dy": -19.2, "align": "center", "baseline": "middle", "color": "black", "font": "DejaVu Sans"},
          "encoding": {"text": {"field": "label"}}
        },
        {
          "width": 243, "height": 242,
          "title": "North Scotland",
          "layer": [
            {
              "data": {"values": [{"lo": -2.4, "hi": 48.3}]},
              "mark": {"type": "rule", "color": "#808080", "strokeWidth": 1},
              "encoding": {
                "x": {"field": "lo", "type": "quantitative", "scale": {"domain": [-4.83, 51.0], "nice": false, "zero": false}, "axis": {"values": [0, 20, 40], "title": null}},
                "y": {"field": "lo", "type": "quantitative", "scale": {"domain": [-5.08, 50.8], "nice": false, "zero": false}, "axis": {"values": [0, 10, 20, 30, 40, 50], "title": "head/tail pr (mm/day)"}},
                "x2": {"field": "hi"}, "y2": {"field": "hi"}
              }
            },
            {
              "data": {"name": "ns01"},
              "mark": {"type": "point", "filled": false, "shape": "circle"},
              "encoding": {
                "x": {"field": "x", "type": "quantitative", "scale": {"domain": [-4.83, 51.0], "nice": false, "zero": false}, "axis": {"values": [0, 20, 40], "title": null}},
                "y": {"field": "y", "type": "quantitative", "scale": {"domain": [-5.08, 50.8], "nice": false, "zero": false}, "axis": {"values": [0, 10, 20, 30, 40, 50], "title": "head/tail pr (mm/day)"}},
                "color": {"field": "series", "type": "nominal", "title": null, "scale": {"domain": ["scatter head", "scatter tail", "QQ head", "QQ tail"], "range": ["#0000ff", "#ff0000", "#00009a", "#a00000"]}},
                "opacity": {"field": "series", "type": "nominal", "title": null, "scale": {"type": "ordinal", "domain": ["scatter head", "scatter tail", "QQ head", "QQ tail"], "range": [0.32, 0.32, 0.9, 0.9]}},
                "size": {"field": "series", "type": "nominal", "title": null, "scale": {"type": "ordinal", "domain": ["scatter head", "scatter tail", "QQ head", "QQ tail"], "range": [10, 10, 32, 32]}},
                "strokeWidth": {"field": "series", "type": "nominal", "title": null, "scale": {"type": "ordinal", "domain": ["scatter head", "scatter tail", "QQ head", "QQ tail"], "range": [1, 1, 2, 2]}}
              }
            }
          ]
        },
        {
          "width": 243, "height": 242,
          "title": "East Anglia",
          "layer": [
            {
              "data": {"values": [{"lo": -1.6, "hi": 34.0}]},
              "mark": {"type": "rule", "color": "#808080", "strokeWidth": 1},
              "encoding": {
                "x": {"field": "lo", "type": "quantitative", "scale": {"domain": [-3.21, 34.5], "nice": false, "zero": false}, "axis": {"values": [0, 10, 20, 30], "title": null}},
                "y": {"field": "lo", "type": "quantitative", "scale": {"domain": [-3.42, 34.3], "nice": false, "zero": false}, "axis": {"values": [0, 5, 10, 15, 20, 25, 30], "title": null}},
                "x2": {"field": "hi"}, "y2": {"field": "hi"}
              }
            },
            {
              "data": {"name": "ea01"},
              "mark": {"type": "point", "filled": false, "shape": "circle"},
              "encoding": {
                "x": {"field": "x", "type": "quantitative", "scale": {"domain": [-3.21, 34.5], "nice": false, "zero": false}, "axis": {"values": [0, 10, 20, 30], "title": null}},
                "y": {"field": "y", "type": "quantitative", "scale": {"domain": [-3.42, 34.3], "nice": false, "zero": false}, "axis": {"values": [0, 5, 10, 15, 20, 25, 30], "title": null}},
                "color": {"field": "series", "type": "nominal", "title": null, "scale": {"domain": ["scatter head", "scatter tail", "QQ head", "QQ tail"], "range": ["#0000ff", "#ff0000", "#00009a", "#a00000"]}},
                "opacity": {"field": "series", "type": "nominal", "title": null, "scale": {"type": "ordinal", "domain": ["scatter head", "scatter tail", "QQ head", "QQ tail"], "range": [0.32, 0.32, 0.9, 0.9]}},
                "size": {"field": "series", "type": "nominal", "title": null, "scale": {"type": "ordinal", "domain": ["scatter head", "scatter tail", "QQ head", "QQ tail"], "range": [10, 10, 32, 32]}},
                "strokeWidth": {"field": "series", "type": "nominal", "title": null, "scale": {"type": "ordinal", "domain": ["scatter head", "scatter tail", "QQ head", "QQ tail"], "range": [1, 1, 2, 2]}}
              }
            }
          ]
        }
      ]
    },
    {
      "spacing": 46,
      "bounds": "flush",
      "center": true,
      "hconcat": [
        {
          "width": 69, "height": 247,
          "view": {"stroke": null},
          "data": {"values": [{"label": "2051\n-\n2060"}]},
          "mark": {"type": "text", "lineBreak": "\n", "fontSize": 16.5, "lineHeight": 19.2, "dy": -19.2, "align": "center", "baseline": "middle", "color": "black", "font": "DejaVu Sans"},
          "encoding": {"text": {"field": "label"}}
        },
        {
          "width": 243, "height": 247,
          "layer": [
            {
              "data": {"values": [{"lo": -2.7, "hi": 58.6}]},
              "mark": {"type": "rule", "color": "#808080", "strokeWidth": 1},
              "encoding": {
                "x": {"field": "lo", "type": "quantitative", "scale": {"domain": [-5.83, 61.7], "nice": false, "zero": false}, "axis": {"values": [0, 20, 40, 60], "title": "middle pr (mm/day)"}},
                "y": {"field": "lo", "type": "quantitative", "scale": {"domain": [-6.0, 62.8], "nice": false, "zero": false}, "axis": {"values": [0, 10, 20, 30, 40, 50, 60], "title": "head/tail pr (mm/day)"}},
                "x2": {"field": "hi"}, "y2": {"field": "hi"}
              }
            },
            {
              "data": {"name": "ns51"},
              "mark": {"type": "point", "filled": false, "shape": "circle"},
              "encoding": {
                "x": {"field": "x", "type": "quantitative", "scale": {"domain": [-5.83, 61.7], "nice": false, "zero": false}, "axis": {"values": [0, 20, 40, 60], "title": "middle pr (mm/day)"}},
                "y": {"field": "y", "type": "quantitative", "scale": {"domain": [-6.0, 62.8], "nice": false, "zero": false}, "axis": {"values": [0, 10, 20, 30, 40, 50, 60], "title": "head/tail pr (mm/day)"}},
                "color": {"field": "series", "type": "nominal", "title": null, "scale": {"domain": ["scatter head", "scatter tail", "QQ head", "QQ tail"], "range": ["#0000ff", "#ff0000", "#00009a", "#a00000"]}},
                "opacity": {"field": "series", "type": "nominal", "title": null, "scale": {"type": "ordinal", "domain": ["scatter head", "scatter tail", "QQ head", "QQ tail"], "range": [0.32, 0.32, 0.9, 0.9]}},
                "size": {"field": "series", "type": "nominal", "title": null, "scale": {"type": "ordinal", "domain": ["scatter head", "scatter tail", "QQ head", "QQ tail"], "range": [10, 10, 32, 32]}},
                "strokeWidth": {"field": "series", "type": "nominal", "title": null, "scale": {"type": "ordinal", "domain": ["scatter head", "scatter tail", "QQ head", "QQ tail"], "range": [1, 1, 2, 2]}}
              }
            }
          ]
        },
        {
          "width": 243, "height": 241,
          "layer": [
            {
              "data": {"values": [{"lo": -2.5, "hi": 53.9}]},
              "mark": {"type": "rule", "color": "#808080", "strokeWidth": 1},
              "encoding": {
                "x": {"field": "lo", "type": "quantitative", "scale": {"domain": [-5.3, 57.0], "nice": false, "zero": false}, "axis": {"values": [0, 20, 40], "title": "middle pr (mm/day)"}},
                "y": {"field": "lo", "type": "quantitative", "scale": {"domain": [-5.4, 56.7], "nice": false, "zero": false}, "axis": {"values": [0, 10, 20, 30, 40, 50], "title": null}},
                "x2": {"field": "hi"}, "y2": {"field": "hi"}
              }
            },
            {
              "data": {"name": "ea51"},
              "mark": {"type": "point", "filled": false, "shape": "circle"},
              "encoding": {
                "x": {"field": "x", "type": "quantitative", "scale": {"domain": [-5.3, 57.0], "nice": false, "zero": false}, "axis": {"values": [0, 20, 40], "title": "middle pr (mm/day)"}},
                "y": {"field": "y", "type": "quantitative", "scale": {"domain": [-5.4, 56.7], "nice": false, "zero": false}, "axis": {"values": [0, 10, 20, 30, 40, 50], "title": null}},
                "color": {"field": "series", "type": "nominal", "title": null, "scale": {"domain": ["scatter head", "scatter tail", "QQ head", "QQ tail"], "range": ["#0000ff", "#ff0000", "#00009a", "#a00000"]}},
                "opacity": {"field": "series", "type": "nominal", "title": null, "scale": {"type": "ordinal", "domain": ["scatter head", "scatter tail", "QQ head", "QQ tail"], "range": [0.32, 0.32, 0.9, 0.9]}},
                "size": {"field": "series", "type": "nominal", "title": null, "scale": {"type": "ordinal", "domain": ["scatter head", "scatter tail", "QQ head", "QQ tail"], "range": [10, 10, 32, 32]}},
                "strokeWidth": {"field": "series", "type": "nominal", "title": null, "scale": {"type": "ordinal", "domain": ["scatter head", "scatter tail", "QQ head", "QQ tail"], "range": [1, 1, 2, 2]}}
              }
            }
          ]
        }
      ]
    }
  ]
}
